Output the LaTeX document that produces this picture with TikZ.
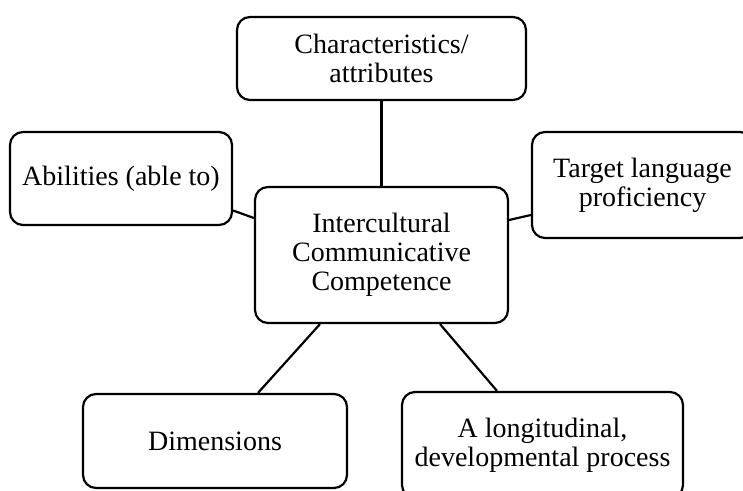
\documentclass[tikz,border=0pt]{standalone}
\usepackage{fontspec}
\setmainfont{Liberation Serif}
\usetikzlibrary{positioning}

\begin{document}
\begin{tikzpicture}[
    x=0.5pt, y=-0.5pt,
    topic/.style={rectangle, rounded corners=6.5pt, draw, line width=1.1pt, align=center,
        font=\fontsize{14}{14.5}\selectfont, inner sep=0pt}
]
    \useasboundingbox (0,0) rectangle (743,491);

    \node[topic, minimum width=144.5pt, minimum height=41.5pt] (attr) at (381.5,58.5) {Characteristics/\\attributes};
    \node[topic, minimum width=111pt, minimum height=46.5pt] (abil) at (121,178.5) {Abilities (able to)};
    \node[topic, minimum width=110.5pt, minimum height=53pt] (target) at (642.5,185) {Target language\\proficiency};
    \node[topic, minimum width=126.5pt, minimum height=68pt] (icc) at (381.5,255) {Intercultural\\Communicative\\Competence};
    \node[topic, minimum width=132pt, minimum height=47pt] (dim) at (215,441) {Dimensions};
    \node[topic, minimum width=140.5pt, minimum height=53pt] (longi) at (542.5,445) {A longitudinal,\\developmental process};

    \draw[line width=1.1pt] (attr.south) -- (icc.north);
    \draw[line width=1.1pt] ([yshift=-16pt]abil.east) -- ([yshift=18.5pt]icc.west);
    \draw[line width=1.1pt] ([yshift=-15pt]target.west) -- ([yshift=17.5pt]icc.east);
    \draw[line width=1.1pt] ([xshift=-30.75pt]icc.south) -- ([xshift=21.5pt]dim.north);
    \draw[line width=1.1pt] ([xshift=29.25pt]icc.south) -- ([xshift=-22.75pt]longi.north);
\end{tikzpicture}
\end{document}
